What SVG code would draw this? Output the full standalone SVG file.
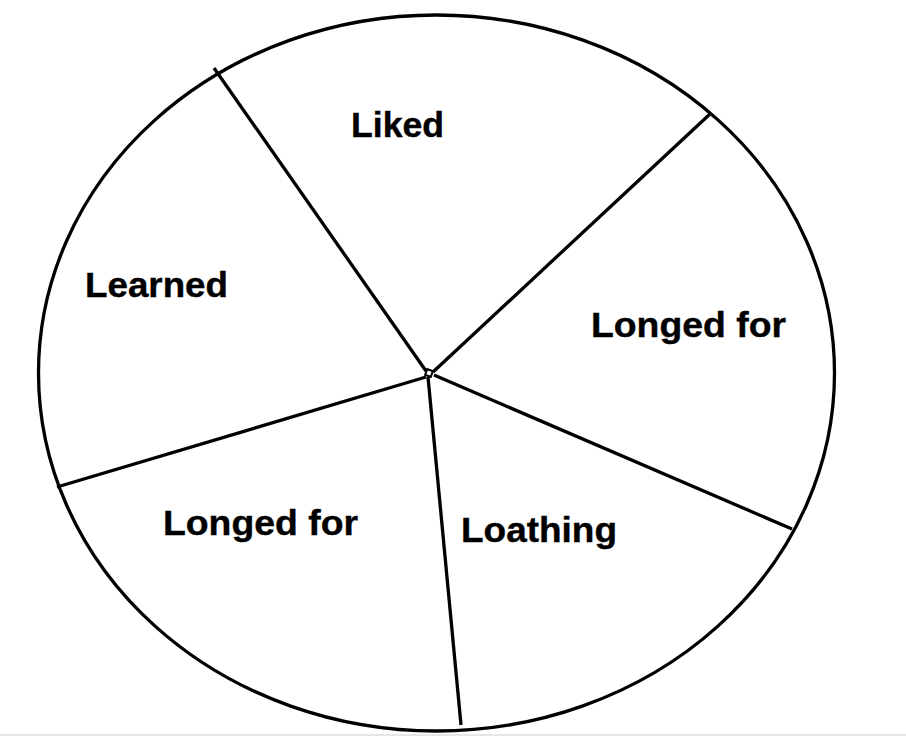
<svg xmlns="http://www.w3.org/2000/svg" width="906" height="736" viewBox="0 0 906 736">
<style>
.ln{stroke:#000;stroke-width:3.3;fill:none;stroke-linecap:butt}
.lb{font-family:"Liberation Sans",Arial,sans-serif;font-weight:bold;font-size:35px;fill:#000;stroke:#000;stroke-width:0.4}
</style>
<rect x="0" y="0" width="906" height="736" fill="#fff"/>
<rect x="0" y="734" width="906" height="2" fill="#e6e6e6"/>
<g id="circle">
<ellipse class="ln" cx="436.5" cy="373" rx="398" ry="358"/>
</g>
<g id="connectors">
<line class="ln" x1="426" y1="371" x2="214" y2="68"/>
<line class="ln" x1="433" y1="372" x2="710" y2="114"/>
<line class="ln" x1="434" y1="375" x2="792" y2="529"/>
<line class="ln" x1="428" y1="377" x2="461" y2="725"/>
<line class="ln" x1="426" y1="377" x2="57" y2="487"/>
<rect x="426" y="370" width="6" height="6" fill="none" stroke="#000" stroke-width="2" transform="rotate(20 429 373)"/>
</g>
<g id="liked"><text class="lb" x="351" y="137" textLength="93" lengthAdjust="spacingAndGlyphs">Liked</text></g>
<g id="longed-right"><text class="lb" x="591" y="337" textLength="195" lengthAdjust="spacingAndGlyphs">Longed for</text></g>
<g id="learned"><text class="lb" x="85" y="297" textLength="143" lengthAdjust="spacingAndGlyphs">Learned</text></g>
<g id="loathing"><text class="lb" x="461" y="542" textLength="156" lengthAdjust="spacingAndGlyphs">Loathing</text></g>
<g id="longed-left"><text class="lb" x="163" y="535" textLength="195" lengthAdjust="spacingAndGlyphs">Longed for</text></g>
</svg>
